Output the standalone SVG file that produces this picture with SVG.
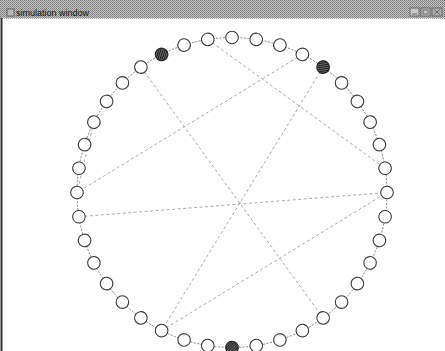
<svg xmlns="http://www.w3.org/2000/svg" width="445" height="351" viewBox="0 0 445 351">
<defs>
<pattern id="dither" width="2" height="2" patternUnits="userSpaceOnUse">
<rect width="2" height="2" fill="#c4c4c4"/>
<rect width="1" height="1" fill="#7a7a7a"/>
<rect x="1" y="1" width="1" height="1" fill="#8c8c8c"/>
</pattern>
<pattern id="hatch" width="2" height="2" patternUnits="userSpaceOnUse" patternTransform="rotate(45)">
<rect width="2" height="2" fill="#6a6a6a"/>
<rect width="1" height="2" fill="#1e1e1e"/>
</pattern>
<style>
.node circle{fill:#ffffff;stroke:#3a3a3a;stroke-width:1.1}
.node.dark circle{fill:url(#hatch);stroke:#222222}
.ring{fill:none;stroke:#6f6f6f;stroke-width:0.9;stroke-dasharray:2 1.5}
.chord{stroke:#a0a0a0;stroke-width:0.9;stroke-dasharray:3 2.5;fill:none}
.title{font-family:"Liberation Sans",Arial,sans-serif;font-size:9px;fill:#111111}
</style>
</defs>
<rect width="445" height="351" fill="#ffffff"/>
<g id="window-frame">
<rect x="0" y="0" width="445" height="18" fill="url(#dither)"/>
<line x1="0" y1="18.5" x2="445" y2="18.5" stroke="#9a9a9a" stroke-width="1" stroke-dasharray="1 1"/>
<line x1="1.5" y1="18" x2="1.5" y2="351" stroke="#333333" stroke-width="2"/>
<rect x="7" y="9" width="7" height="7" fill="#b8b8b8" stroke="#555555" stroke-width="0.8"/>
<text class="title" x="16" y="16">simulation window</text>
<g fill="none" stroke="#666666" stroke-width="1">
<rect x="410" y="8" width="9" height="8" fill="#c8c8c8"/>
<rect x="421" y="8" width="9" height="8" fill="#c8c8c8"/>
<rect x="432" y="8" width="10" height="8" fill="#b0b0b0"/>
<line x1="412" y1="14" x2="417" y2="14"/>
<rect x="423" y="10" width="5" height="4"/>
<line x1="434" y1="9.5" x2="440" y2="14.5"/>
<line x1="440" y1="9.5" x2="434" y2="14.5"/>
</g>
</g>
<g id="connectors">
<circle class="ring" cx="232" cy="192.5" r="155"/>
<line class="chord" x1="140.9" y1="67.1" x2="323.1" y2="317.9"/>
<line class="chord" x1="207.8" y1="39.4" x2="385.1" y2="168.3"/>
<line class="chord" x1="302.4" y1="54.4" x2="77" y2="192.5"/>
<line class="chord" x1="323.1" y1="67.1" x2="161.6" y2="330.6"/>
<line class="chord" x1="161.6" y1="330.6" x2="387" y2="192.5"/>
<line class="chord" x1="78.9" y1="216.7" x2="387" y2="192.5"/>
<line class="chord" x1="93.9" y1="122.1" x2="77" y2="192.5"/>
</g>
<g id="nodes">
<g id="n0" class="node" transform="rotate(0 232 192.5)"><circle cx="232" cy="37.5" r="6.3"/></g>
<g id="n1" class="node" transform="rotate(9 232 192.5)"><circle cx="232" cy="37.5" r="6.3"/></g>
<g id="n2" class="node" transform="rotate(18 232 192.5)"><circle cx="232" cy="37.5" r="6.3"/></g>
<g id="n3" class="node" transform="rotate(27 232 192.5)"><circle cx="232" cy="37.5" r="6.3"/></g>
<g id="n4" class="node dark" transform="rotate(36 232 192.5)"><circle cx="232" cy="37.5" r="6.3"/></g>
<g id="n5" class="node" transform="rotate(45 232 192.5)"><circle cx="232" cy="37.5" r="6.3"/></g>
<g id="n6" class="node" transform="rotate(54 232 192.5)"><circle cx="232" cy="37.5" r="6.3"/></g>
<g id="n7" class="node" transform="rotate(63 232 192.5)"><circle cx="232" cy="37.5" r="6.3"/></g>
<g id="n8" class="node" transform="rotate(72 232 192.5)"><circle cx="232" cy="37.5" r="6.3"/></g>
<g id="n9" class="node" transform="rotate(81 232 192.5)"><circle cx="232" cy="37.5" r="6.3"/></g>
<g id="n10" class="node" transform="rotate(90 232 192.5)"><circle cx="232" cy="37.5" r="6.3"/></g>
<g id="n11" class="node" transform="rotate(99 232 192.5)"><circle cx="232" cy="37.5" r="6.3"/></g>
<g id="n12" class="node" transform="rotate(108 232 192.5)"><circle cx="232" cy="37.5" r="6.3"/></g>
<g id="n13" class="node" transform="rotate(117 232 192.5)"><circle cx="232" cy="37.5" r="6.3"/></g>
<g id="n14" class="node" transform="rotate(126 232 192.5)"><circle cx="232" cy="37.5" r="6.3"/></g>
<g id="n15" class="node" transform="rotate(135 232 192.5)"><circle cx="232" cy="37.5" r="6.3"/></g>
<g id="n16" class="node" transform="rotate(144 232 192.5)"><circle cx="232" cy="37.5" r="6.3"/></g>
<g id="n17" class="node" transform="rotate(153 232 192.5)"><circle cx="232" cy="37.5" r="6.3"/></g>
<g id="n18" class="node" transform="rotate(162 232 192.5)"><circle cx="232" cy="37.5" r="6.3"/></g>
<g id="n19" class="node" transform="rotate(171 232 192.5)"><circle cx="232" cy="37.5" r="6.3"/></g>
<g id="n20" class="node dark" transform="rotate(180 232 192.5)"><circle cx="232" cy="37.5" r="6.3"/></g>
<g id="n21" class="node" transform="rotate(189 232 192.5)"><circle cx="232" cy="37.5" r="6.3"/></g>
<g id="n22" class="node" transform="rotate(198 232 192.5)"><circle cx="232" cy="37.5" r="6.3"/></g>
<g id="n23" class="node" transform="rotate(207 232 192.5)"><circle cx="232" cy="37.5" r="6.3"/></g>
<g id="n24" class="node" transform="rotate(216 232 192.5)"><circle cx="232" cy="37.5" r="6.3"/></g>
<g id="n25" class="node" transform="rotate(225 232 192.5)"><circle cx="232" cy="37.5" r="6.3"/></g>
<g id="n26" class="node" transform="rotate(234 232 192.5)"><circle cx="232" cy="37.5" r="6.3"/></g>
<g id="n27" class="node" transform="rotate(243 232 192.5)"><circle cx="232" cy="37.5" r="6.3"/></g>
<g id="n28" class="node" transform="rotate(252 232 192.5)"><circle cx="232" cy="37.5" r="6.3"/></g>
<g id="n29" class="node" transform="rotate(261 232 192.5)"><circle cx="232" cy="37.5" r="6.3"/></g>
<g id="n30" class="node" transform="rotate(270 232 192.5)"><circle cx="232" cy="37.5" r="6.3"/></g>
<g id="n31" class="node" transform="rotate(279 232 192.5)"><circle cx="232" cy="37.5" r="6.3"/></g>
<g id="n32" class="node" transform="rotate(288 232 192.5)"><circle cx="232" cy="37.5" r="6.3"/></g>
<g id="n33" class="node" transform="rotate(297 232 192.5)"><circle cx="232" cy="37.5" r="6.3"/></g>
<g id="n34" class="node" transform="rotate(306 232 192.5)"><circle cx="232" cy="37.5" r="6.3"/></g>
<g id="n35" class="node" transform="rotate(315 232 192.5)"><circle cx="232" cy="37.5" r="6.3"/></g>
<g id="n36" class="node" transform="rotate(324 232 192.5)"><circle cx="232" cy="37.5" r="6.3"/></g>
<g id="n37" class="node dark" transform="rotate(333 232 192.5)"><circle cx="232" cy="37.5" r="6.3"/></g>
<g id="n38" class="node" transform="rotate(342 232 192.5)"><circle cx="232" cy="37.5" r="6.3"/></g>
<g id="n39" class="node" transform="rotate(351 232 192.5)"><circle cx="232" cy="37.5" r="6.3"/></g>
</g>
</svg>
